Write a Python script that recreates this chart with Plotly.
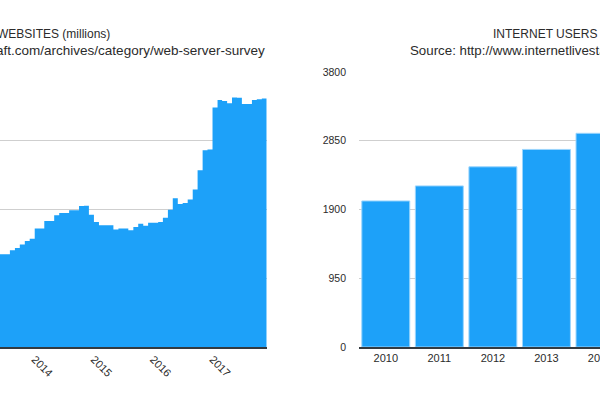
import plotly.graph_objects as go

# ---- Left chart: total websites (millions), monthly ----
months = [
    "2013-06-01", "2013-07-01", "2013-08-01", "2013-09-01", "2013-10-01", "2013-11-01", "2013-12-01",
    "2014-01-01", "2014-02-01", "2014-03-01", "2014-04-01", "2014-05-01", "2014-06-01",
    "2014-07-01", "2014-08-01", "2014-09-01", "2014-10-01", "2014-11-01", "2014-12-01",
    "2015-01-01", "2015-02-01", "2015-03-01", "2015-04-01", "2015-05-01", "2015-06-01",
    "2015-07-01", "2015-08-01", "2015-09-01", "2015-10-01", "2015-11-01", "2015-12-01",
    "2016-01-01", "2016-02-01", "2016-03-01", "2016-04-01", "2016-05-01", "2016-06-01",
    "2016-07-01", "2016-08-01", "2016-09-01", "2016-10-01", "2016-11-01", "2016-12-01",
    "2017-01-01", "2017-02-01", "2017-03-01", "2017-04-01", "2017-05-01", "2017-06-01",
    "2017-07-01", "2017-08-01", "2017-09-01", "2017-10-01", "2017-11-01",
]
websites = [
    674, 674, 703, 720, 745, 771, 788,
    861, 861, 916, 916, 958, 975,
    975, 994, 994, 1026, 1028, 962,
    909, 885, 885, 885, 854, 862,
    862, 849, 873, 896, 881, 903,
    903, 910, 940, 998, 1081, 1040,
    1047, 1072, 1145, 1285, 1431, 1436,
    1741, 1796, 1789, 1772, 1814, 1812,
    1767, 1767, 1797, 1801, 1808,
]
series_end = "2017-12-01"
web_years = ["2014-01-01", "2015-01-01", "2016-01-01", "2017-01-01"]
web_year_labels = ["2014", "2015", "2016", "2017"]
web_grid = [0, 500, 1000, 1500, 2000]

# ---- Right chart: internet users (millions) ----
user_years = ["2010", "2011", "2012", "2013", "2014"]
users = [2018, 2226, 2490, 2730, 2953]
user_grid = [0, 950, 1900, 2850, 3800]

BLUE = "#1da1f9"
TXT = "#2b2b2b"
GRID = "#cfcfcf"
FONT = "Liberation Sans, Arial, sans-serif"

W, H = 600, 400
PLOT_TOP, PLOT_BOT = 72, 346.7
ph = PLOT_BOT - PLOT_TOP


def py(y):
    return (PLOT_BOT - y) / ph


fig = go.Figure()

fig.add_trace(go.Scatter(
    x=months + [series_end], y=websites + [websites[-1]],
    mode="lines", line=dict(shape="hv", width=0, color=BLUE),
    fill="tozeroy", fillcolor=BLUE, xaxis="x", yaxis="y",
    hoverinfo="skip", showlegend=False,
))

fig.add_trace(go.Bar(
    x=user_years, y=users, marker=dict(color=BLUE, line=dict(color="#9bd5fd", width=1)),
    xaxis="x2", yaxis="y2", showlegend=False,
))

left_right = 266.7 / W
right_left = 359.0 / W

fig.update_layout(
    width=W, height=H,
    margin=dict(l=0, r=0, t=PLOT_TOP, b=H - PLOT_BOT, autoexpand=False),
    paper_bgcolor="white", plot_bgcolor="white",
    font=dict(family=FONT, color=TXT, size=11),
    bargap=0.105,
    xaxis=dict(
        domain=[0, left_right], type="date", automargin=False,
        range=["2013-06-01", series_end],
        tickvals=web_years, ticktext=web_year_labels, tickangle=45,
        showgrid=False, zeroline=False,
        showline=True, linecolor="#333a40", linewidth=1.5,
        ticks="", tickfont=dict(size=11, color=TXT),
    ),
    yaxis=dict(
        domain=[0, 1], range=[0, 2000], tickvals=web_grid, automargin=False,
        showticklabels=False, showgrid=True, gridcolor=GRID, gridwidth=1,
        zeroline=False,
    ),
    xaxis2=dict(
        domain=[right_left, 1], anchor="y2", type="category", automargin=False,
        range=[-0.5, 4.0],
        showgrid=False, zeroline=False,
        showline=True, linecolor="#333a40", linewidth=2,
        ticks="", tickfont=dict(size=11, color=TXT),
    ),
    yaxis2=dict(
        domain=[0, 1], anchor="x2", range=[0, 3800], tickvals=user_grid, automargin=False,
        ticktext=[str(v) for v in user_grid],
        showgrid=True, gridcolor=GRID, gridwidth=1, zeroline=False,
        ticks="", ticklabelstandoff=12, tickfont=dict(size=10.5, color=TXT),
    ),
    annotations=[
        dict(text="WEBSITES (millions)", xref="paper", yref="paper",
             x=112 / W, y=py(34), xanchor="right", yanchor="middle",
             showarrow=False, font=dict(size=12, color=TXT)),
        dict(text="Source: https://news.netcraft.com/archives/category/web-server-survey",
             xref="paper", yref="paper",
             x=266.5 / W, y=py(51), xanchor="right", yanchor="middle",
             showarrow=False, font=dict(size=13.5, color=TXT)),
        dict(text="INTERNET USERS", xref="paper", yref="paper",
             x=490.5 / W, y=py(34), xanchor="left", yanchor="middle",
             showarrow=False, font=dict(size=12, color=TXT)),
        dict(text="Source: http://www.internetlivestats.com/",
             xref="paper", yref="paper",
             x=407.5 / W, y=py(51), xanchor="left", yanchor="middle",
             showarrow=False, font=dict(size=13.3, color=TXT)),
    ],
)

fig.write_html(
    "out.html",
    config={"displayModeBar": False},
    post_script="document.body.style.margin='0px';document.body.style.overflow='hidden';",
)
